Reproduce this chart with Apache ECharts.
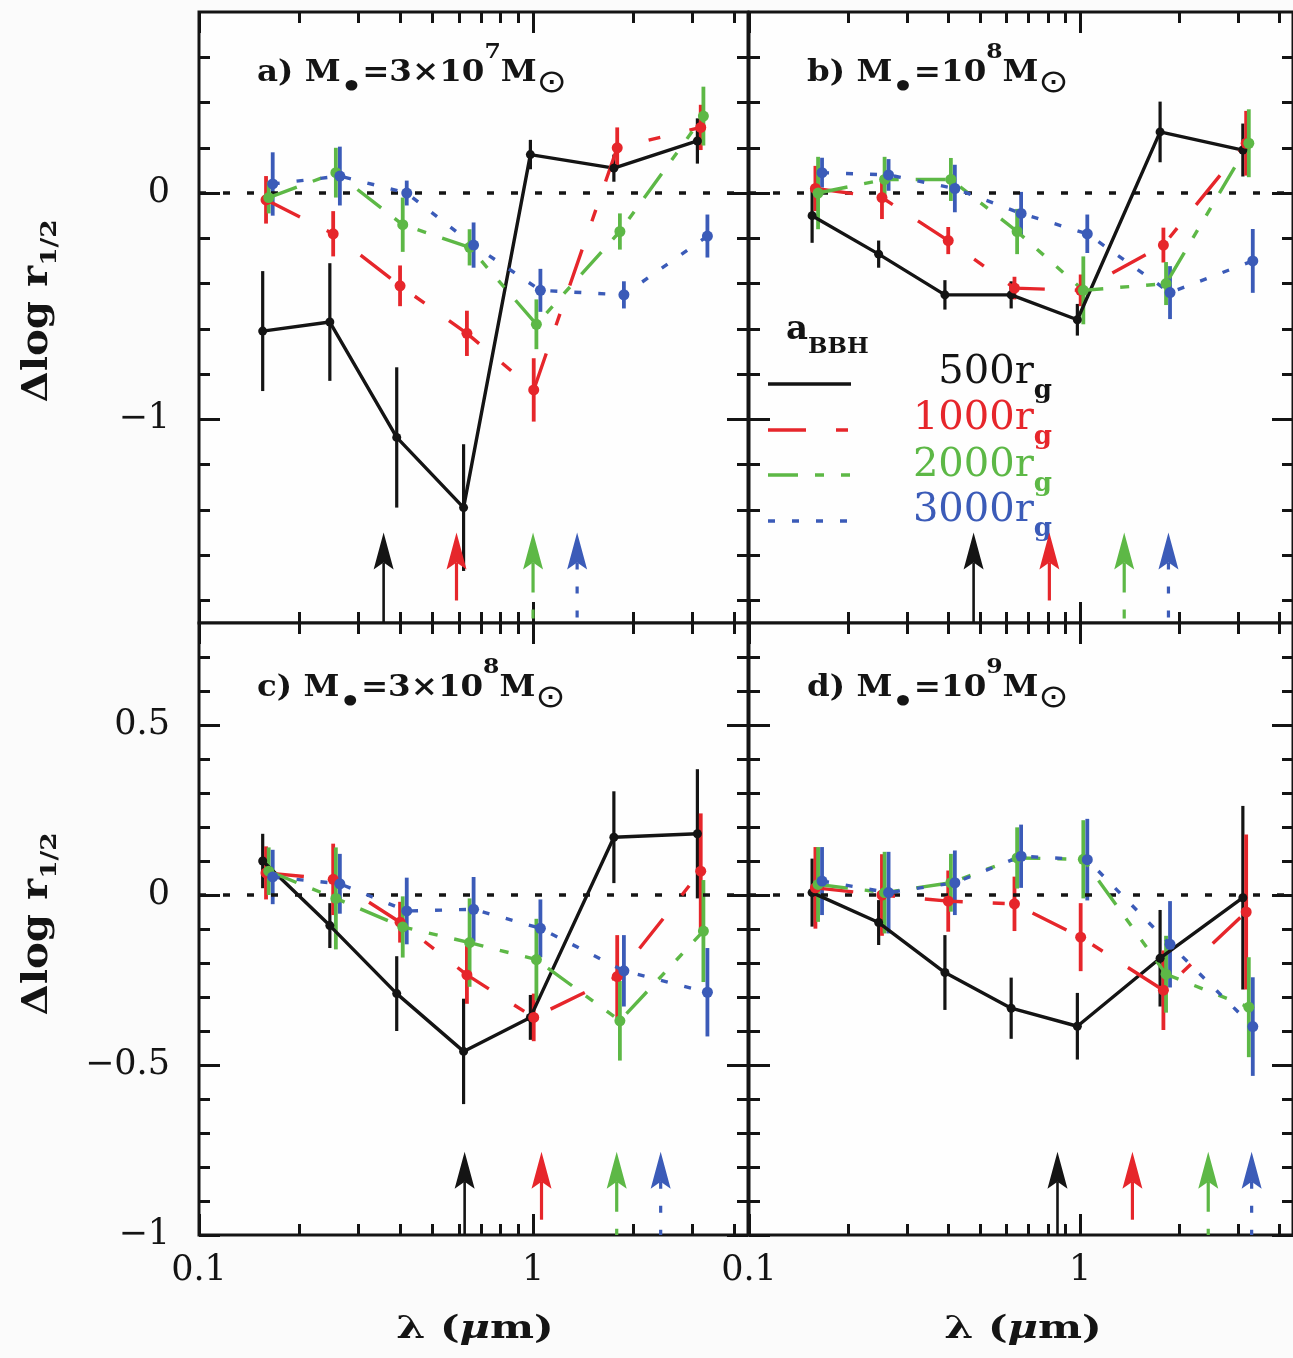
<!DOCTYPE html>
<html>
<head>
<meta charset="utf-8">
<title>Δlog r1/2 versus wavelength</title>
<script src="https://cdn.jsdelivr.net/npm/echarts@6.0.0/dist/echarts.min.js"></script>
<style>
  html, body { margin: 0; padding: 0; background: #fbfbfb; }
  #chart { width: 1293px; height: 1358px; }
</style>
</head>
<body>
<div id="chart"></div>
<script>
// ---------------------------------------------------------------------------
// Data
// ---------------------------------------------------------------------------

// Band wavelengths (µm)
const WAVELENGTHS = [0.158, 0.251, 0.398, 0.631, 1.0, 1.778, 3.162];

// BBH separations a_BBH, in r_g
const SEPARATIONS = ['500', '1000', '2000', '3000'];

// Panel captions: M• = coef × 10^exp M⊙
const PANEL_TAGS = ['a)', 'b)', 'c)', 'd)'];
const MASS_COEF = ['3×10', '10', '3×10', '10'];
const MASS_EXP = ['7', '8', '8', '9'];

// Axis ticks
const X_MIN = 0.1, X_MAX = 4.4;
const X_MAJOR = [0.1, 1];
const X_MINOR = [0.2, 0.3, 0.4, 0.5, 0.6, 0.7, 0.8, 0.9, 2, 3, 4];
const Y_TOP_RANGE = [-1.9, 0.8];
const Y_TOP_MAJOR = [-1, 0];
const Y_TOP_MINOR = [-1.8, -1.6, -1.4, -1.2, -0.8, -0.6, -0.4, -0.2, 0.2, 0.4, 0.6];
const Y_BOT_RANGE = [-1, 0.8];
const Y_BOT_MAJOR = [-1, -0.5, 0, 0.5];
const Y_BOT_MINOR = [-0.9, -0.8, -0.7, -0.6, -0.4, -0.3, -0.2, -0.1, 0.1, 0.2, 0.3, 0.4, 0.6, 0.7];

// a) M• = 3×10^7 M⊙ : Δlog r1/2 and its error, per separation
const a500 = [-0.61, -0.57, -1.08, -1.39, 0.17, 0.11, 0.23];
const a500Err = [0.265, 0.26, 0.31, 0.28, 0.065, 0.06, 0.10];
const a1000 = [-0.03, -0.18, -0.41, -0.62, -0.87, 0.20, 0.29];
const a1000Err = [0.105, 0.10, 0.09, 0.10, 0.14, 0.09, 0.10];
const a2000 = [-0.02, 0.09, -0.14, -0.24, -0.58, -0.17, 0.34];
const a2000Err = [0.07, 0.11, 0.12, 0.08, 0.11, 0.08, 0.13];
const a3000 = [0.04, 0.075, 0.0, -0.23, -0.43, -0.45, -0.19];
const a3000Err = [0.14, 0.13, 0.055, 0.10, 0.095, 0.06, 0.095];

// b) M• = 10^8 M⊙
const b500 = [-0.10, -0.27, -0.45, -0.45, -0.56, 0.27, 0.19];
const b500Err = [0.12, 0.06, 0.065, 0.06, 0.07, 0.134, 0.117];
const b1000 = [0.02, -0.02, -0.21, -0.42, -0.43, -0.23, 0.22];
const b1000Err = [0.10, 0.095, 0.06, 0.05, 0.07, 0.077, 0.143];
const b2000 = [0.0, 0.06, 0.06, -0.17, -0.43, -0.40, 0.22];
const b2000Err = [0.16, 0.10, 0.095, 0.10, 0.15, 0.095, 0.15];
const b3000 = [0.09, 0.08, 0.02, -0.09, -0.18, -0.44, -0.30];
const b3000Err = [0.066, 0.07, 0.105, 0.095, 0.085, 0.117, 0.141];

// c) M• = 3×10^8 M⊙
const c500 = [0.10, -0.09, -0.29, -0.46, -0.36, 0.17, 0.18];
const c500Err = [0.08, 0.066, 0.11, 0.155, 0.066, 0.135, 0.19];
const c1000 = [0.065, 0.046, -0.08, -0.235, -0.36, -0.24, 0.07];
const c1000Err = [0.078, 0.105, 0.06, 0.085, 0.07, 0.122, 0.17];
const c2000 = [0.07, -0.01, -0.094, -0.14, -0.19, -0.37, -0.106];
const c2000Err = [0.07, 0.15, 0.09, 0.13, 0.12, 0.117, 0.15];
const c3000 = [0.053, 0.033, -0.047, -0.042, -0.098, -0.223, -0.286];
const c3000Err = [0.08, 0.088, 0.098, 0.095, 0.085, 0.105, 0.13];

// d) M• = 10^9 M⊙
const d500 = [0.007, -0.081, -0.228, -0.333, -0.386, -0.186, -0.008];
const d500Err = [0.10, 0.066, 0.11, 0.09, 0.098, 0.142, 0.27];
const d1000 = [0.021, 0.0, -0.018, -0.026, -0.124, -0.28, -0.05];
const d1000Err = [0.12, 0.12, 0.09, 0.08, 0.10, 0.117, 0.228];
const d2000 = [0.031, 0.007, 0.036, 0.109, 0.105, -0.233, -0.33];
const d2000Err = [0.11, 0.12, 0.085, 0.09, 0.115, 0.113, 0.147];
const d3000 = [0.041, 0.007, 0.036, 0.114, 0.104, -0.145, -0.387];
const d3000Err = [0.10, 0.12, 0.095, 0.093, 0.12, 0.127, 0.145];

// Wavelengths flagged by arrows (500, 1000, 2000, 3000 r_g)
const arrowsA = [0.357, 0.59, 1.0, 1.355];
const arrowsB = [0.477, 0.808, 1.36, 1.85];
const arrowsC = [0.624, 1.06, 1.78, 2.41];
const arrowsD = [0.855, 1.44, 2.44, 3.30];
// Value reached by the arrow tips in the upper and lower rows
const ARROW_TIP_TOP = -1.5;
const ARROW_TIP_BOT = -0.755;

// ---------------------------------------------------------------------------
// Styling
// ---------------------------------------------------------------------------
const INK = '#141414';
const COLORS = [INK, '#e6262b', '#5db846', '#3b5bb8'];
const DASHES = ['solid', [38, 30, 12, 30], [30, 17, 9, 17, 9, 17], [7, 17]];
const DASH_ARRAYS = [null, [38, 30, 12, 30], [30, 17, 9, 17, 9, 17], [7, 17]];
// small horizontal shift per separation (in dex) so overlapping bars stay visible
const DODGE_DEX = [-0.008, 0.002, 0.01, 0.022];
const SERIF = "'DejaVu Serif', serif";
const SANS = "'DejaVu Sans', sans-serif";
const TICK_FONT = { fontFamily: SERIF, fontSize: 35, color: INK };

const GRID_BOXES = [
  { left: 199, top: 12, width: 549, height: 611 },
  { left: 749, top: 12, width: 549, height: 611 },
  { left: 199, top: 623, width: 549, height: 612 },
  { left: 749, top: 623, width: 549, height: 612 }
];

const panels = [
  { values: [a500, a1000, a2000, a3000], errors: [a500Err, a1000Err, a2000Err, a3000Err],
    arrows: arrowsA, tip: ARROW_TIP_TOP, yRange: Y_TOP_RANGE, yMajor: Y_TOP_MAJOR, yMinor: Y_TOP_MINOR },
  { values: [b500, b1000, b2000, b3000], errors: [b500Err, b1000Err, b2000Err, b3000Err],
    arrows: arrowsB, tip: ARROW_TIP_TOP, yRange: Y_TOP_RANGE, yMajor: Y_TOP_MAJOR, yMinor: Y_TOP_MINOR },
  { values: [c500, c1000, c2000, c3000], errors: [c500Err, c1000Err, c2000Err, c3000Err],
    arrows: arrowsC, tip: ARROW_TIP_BOT, yRange: Y_BOT_RANGE, yMajor: Y_BOT_MAJOR, yMinor: Y_BOT_MINOR },
  { values: [d500, d1000, d2000, d3000], errors: [d500Err, d1000Err, d2000Err, d3000Err],
    arrows: arrowsD, tip: ARROW_TIP_BOT, yRange: Y_BOT_RANGE, yMajor: Y_BOT_MAJOR, yMinor: Y_BOT_MINOR }
];

const fmtY = v => (v < 0 ? '\u2212' + Math.abs(v) : String(v));
const fmtX = v => (v < 1 ? String(Math.round(v * 10) / 10) : String(Math.round(v)));

// ---------------------------------------------------------------------------
// Axes: every panel carries major + minor ticks on all four sides
// ---------------------------------------------------------------------------
const xAxes = [], yAxes = [];
panels.forEach((pnl, p) => {
  const bottomRow = p >= 2, leftCol = p % 2 === 0;
  const xBase = { type: 'log', logBase: 10, min: X_MIN, max: X_MAX, gridIndex: p,
    axisLine: { show: false, onZero: false }, splitLine: { show: false }, axisPointer: { show: false } };
  [['bottom', true], ['bottom', false], ['top', true], ['top', false]].forEach(([pos, major]) => {
    const labelled = major && pos === 'bottom' && bottomRow;
    xAxes.push(Object.assign({}, xBase, {
      position: pos,
      axisTick: { show: true, inside: true, length: major ? 21 : 11,
        customValues: major ? X_MAJOR : X_MINOR, lineStyle: { color: INK, width: 3 } },
      axisLabel: labelled
        ? Object.assign({ show: true, customValues: X_MAJOR, margin: 18, formatter: fmtX }, TICK_FONT)
        : { show: false }
    }));
  });
  const yBase = { type: 'value', min: pnl.yRange[0], max: pnl.yRange[1], gridIndex: p,
    axisLine: { show: false, onZero: false }, splitLine: { show: false }, axisPointer: { show: false } };
  [['left', true], ['left', false], ['right', true], ['right', false]].forEach(([pos, major]) => {
    const labelled = major && pos === 'left' && leftCol;
    yAxes.push(Object.assign({}, yBase, {
      position: pos,
      axisTick: { show: true, inside: true, length: major ? 21 : 11,
        customValues: major ? pnl.yMajor : pnl.yMinor, lineStyle: { color: INK, width: 3 } },
      axisLabel: labelled
        ? Object.assign({ show: true, customValues: pnl.yMajor, margin: 29, formatter: fmtY }, TICK_FONT)
        : { show: false }
    }));
  });
});

// ---------------------------------------------------------------------------
// Series
// ---------------------------------------------------------------------------
const series = [];
panels.forEach((pnl, p) => {
  const xi = p * 4, yi = p * 4;
  // dotted zero line
  series.push({
    type: 'line', xAxisIndex: xi, yAxisIndex: yi, silent: true, symbol: 'none',
    data: [[X_MIN, 0], [X_MAX, 0]],
    lineStyle: { color: INK, width: 3.5, type: [7, 17] }
  });
  for (let s = 0; s < SEPARATIONS.length; s++) {
    const shift = Math.pow(10, DODGE_DEX[s]);
    const color = COLORS[s];
    // vertical error bars
    series.push({
      type: 'custom', xAxisIndex: xi, yAxisIndex: yi, silent: true, clip: true,
      encode: { x: 0, y: 1 },
      data: WAVELENGTHS.map((w, i) => [w * shift, pnl.values[s][i], pnl.errors[s][i]]),
      renderItem: (params, api) => {
        const x = api.value(0), y = api.value(1), e = api.value(2);
        const top = api.coord([x, y + e]), bot = api.coord([x, y - e]);
        return { type: 'line', shape: { x1: top[0], y1: top[1], x2: bot[0], y2: bot[1] },
          style: { stroke: color, lineWidth: s === 0 ? 3.2 : 3.8 } };
      }
    });
    // connecting line with points
    series.push({
      type: 'line', xAxisIndex: xi, yAxisIndex: yi, silent: true,
      data: WAVELENGTHS.map((w, i) => [w * shift, pnl.values[s][i]]),
      symbol: 'circle', symbolSize: s === 0 ? 9 : 11, showSymbol: true,
      itemStyle: { color: color },
      lineStyle: { color: color, width: 3.4, type: DASHES[s] }
    });
  }
  // arrows along the bottom
  series.push({
    type: 'custom', xAxisIndex: xi, yAxisIndex: yi, silent: true, clip: false,
    encode: { x: 0, y: 1 },
    data: pnl.arrows.map((x, s) => [x, pnl.tip, pnl.yRange[0], s]),
    renderItem: (params, api) => {
      const x = api.value(0), s = api.value(3);
      const tip = api.coord([x, api.value(1)]), base = api.coord([x, api.value(2)]);
      const color = COLORS[s];
      const headLen = 37, half = 10, notch = 30;
      const shaft = { stroke: color, lineWidth: s === 0 ? 2.6 : 3.2 };
      if (DASH_ARRAYS[s]) shaft.lineDash = DASH_ARRAYS[s];
      return { type: 'group', children: [
        { type: 'line', shape: { x1: tip[0], y1: tip[1] + notch, x2: base[0], y2: base[1] }, style: shaft },
        { type: 'polygon', shape: { points: [
            [tip[0], tip[1]], [tip[0] + half, tip[1] + headLen],
            [tip[0], tip[1] + notch], [tip[0] - half, tip[1] + headLen]] },
          style: { fill: color } }
      ] };
    }
  });
});

// ---------------------------------------------------------------------------
// Text with sub- and superscripts: a run of pieces laid out along a baseline.
// Each piece: { text, size, bold, italic, family, dy (baseline shift, +down), color }
// ---------------------------------------------------------------------------
const measureCtx = document.createElement('canvas').getContext('2d');
const MIDDLE = 0.35; // canvas 'middle' baseline sits ~0.35em above the alphabetic one
const fontOf = pc => `${pc.italic ? 'italic' : 'normal'} ${pc.bold ? 'bold' : 'normal'} ${pc.size}px ${pc.family || SERIF}`;

function textRun(x, baseline, pieces, opts) {
  const o = Object.assign({ align: 'left', scaleX: 1, rotation: 0 }, opts || {});
  const widths = pieces.map(pc => { measureCtx.font = fontOf(pc); return measureCtx.measureText(pc.text).width; });
  const total = widths.reduce((a, b) => a + b, 0);
  let cursor = o.align === 'left' ? 0 : (o.align === 'center' ? -total / 2 : -total);
  const children = pieces.map((pc, i) => {
    const el = {
      type: 'text', silent: true, x: cursor, y: (pc.dy || 0) - MIDDLE * pc.size,
      style: {
        text: pc.text, font: fontOf(pc),
        fontSize: pc.size, fontFamily: pc.family || SERIF,
        fontWeight: pc.bold ? 'bold' : 'normal', fontStyle: pc.italic ? 'italic' : 'normal',
        fill: pc.color || INK, align: 'left', verticalAlign: 'middle'
      }
    };
    cursor += widths[i];
    return el;
  });
  return { type: 'group', x: x, y: baseline, scaleX: o.scaleX, rotation: o.rotation, silent: true, children: children };
}

const graphics = [];

// panel captions
const TITLE_POS = [[257, 84], [807, 84], [257, 699], [807, 699]];
panels.forEach((pnl, p) => {
  const [tx, base] = TITLE_POS[p];
  graphics.push(textRun(tx, base, [
    { text: `${PANEL_TAGS[p]} M`, size: 29, bold: true },
    { text: '•', size: 30, bold: true, dy: 15 },
    { text: `=${MASS_COEF[p]}`, size: 29, bold: true },
    { text: MASS_EXP[p], size: 21, bold: true, dy: -24 },
    { text: 'M', size: 29, bold: true },
    { text: '⊙', size: 32, family: SANS, dy: 11 }
  ], { scaleX: 1.12 }));
});

// y-axis titles (rotated, reading upwards)
[[50, 311], [50, 924]].forEach(([x, y]) => {
  graphics.push(textRun(x, y, [
    { text: 'Δlog r', size: 35, bold: true },
    { text: '1/2', size: 23, bold: true, dy: 8 }
  ], { align: 'center', rotation: Math.PI / 2, scaleX: 1.15 }));
});

// x-axis titles
[475, 1023].forEach(x => {
  graphics.push(textRun(x, 1341, [
    { text: 'λ (', size: 32, bold: true },
    { text: 'μ', size: 32, bold: true, italic: true },
    { text: 'm)', size: 32, bold: true }
  ], { align: 'center', scaleX: 1.3 }));
});

// key
graphics.push(textRun(786, 342, [
  { text: 'a', size: 34, bold: true },
  { text: 'BBH', size: 23, bold: true, dy: 13 }
]));
const KEY_BASELINES = [387, 433, 480, 525];
const KEY_LINE_Y = [384, 430, 475, 521];
SEPARATIONS.forEach((sep, s) => {
  const line = { type: 'line', silent: true,
    shape: { x1: 768, y1: KEY_LINE_Y[s], x2: 851, y2: KEY_LINE_Y[s] },
    style: { stroke: COLORS[s], lineWidth: 3.5 } };
  if (DASH_ARRAYS[s]) line.style.lineDash = DASH_ARRAYS[s];
  graphics.push(line);
  graphics.push(textRun(1052, KEY_BASELINES[s], [
    { text: `${sep}r`, size: 40, color: COLORS[s] },
    { text: 'g', size: 26, bold: true, dy: 13, color: COLORS[s] }
  ], { align: 'right' }));
});

// ---------------------------------------------------------------------------
const chart = echarts.init(document.getElementById('chart'), null, { renderer: 'canvas' });
chart.setOption({
  animation: false,
  backgroundColor: '#fbfbfb',
  grid: GRID_BOXES.map(b => Object.assign({ show: true, borderColor: INK, borderWidth: 3,
    backgroundColor: '#fefefe', containLabel: false }, b)),
  xAxis: xAxes,
  yAxis: yAxes,
  series: series,
  graphic: { elements: graphics }
});
</script>
</body>
</html>
